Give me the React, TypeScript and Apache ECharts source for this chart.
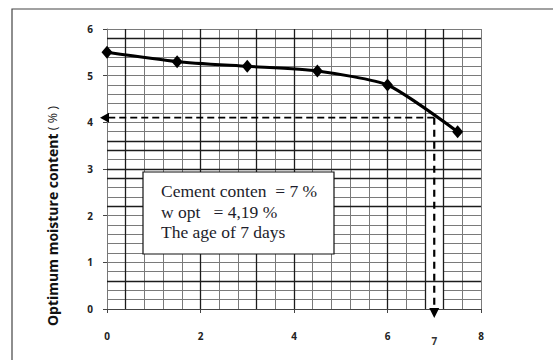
import React, { useEffect, useRef } from "react";
import * as echarts from "echarts";

// ---- data ----
const curingAge = [0, 1.5, 3, 4.5, 6, 7.5];
const moisture = [5.5, 5.3, 5.2, 5.1, 4.8, 3.8];
const xRange = [0, 8];
const yRange = [0, 6];
// graph-paper heavy lines
const darkGridX = [0.4, 2, 3.2, 4, 6, 6.8, 7.2];
const darkGridY = [5.8, 3.6, 3.4, 3.0, 2.8, 2.2, 0.6];
// read-off point
const readX = 7;
const readY = 4.1;
const readLabel = "7";
const noteLines = ["Cement conten  = 7 %", "w opt   = 4,19 %", "The age of 7 days"];
const yTitleMain = "Optimum moisture content";
const yTitleUnit = "( % )";

const GRID_MINOR = "#7a7a7a";
const GRID_DARK = "#1c1c1c";
const LABEL_FONT = "'Open Sans', 'DejaVu Sans', sans-serif";

export default function App() {
  const ref = useRef<HTMLDivElement>(null);
  useEffect(() => {
    if (!ref.current) return;
    const chart = echarts.init(ref.current, undefined, { renderer: "svg" });
    const axisLabel = {
      fontFamily: LABEL_FONT,
      fontWeight: "bold" as const,
      fontSize: 10,
      color: "#222",
    };
    chart.setOption({
      animation: false,
      backgroundColor: "#fff",
      grid: { left: 107, top: 29, width: 374, height: 280, containLabel: false },
      xAxis: [
        {
          type: "value",
          min: xRange[0],
          max: xRange[1],
          interval: 2,
          axisLine: { show: true, lineStyle: { color: "#444", width: 1.2 } },
          axisTick: { show: true, length: 4, lineStyle: { color: "#444" } },
          axisLabel: { ...axisLabel, margin: 22 },
          splitLine: { show: false },
          z: 3,
        },
        {
          type: "value",
          min: xRange[0],
          max: xRange[1],
          interval: 0.4,
          position: "bottom",
          axisLine: { show: false },
          axisTick: { show: false },
          axisLabel: { show: false },
          splitLine: { show: true, lineStyle: { color: GRID_MINOR, width: 1 } },
        },
      ],
      yAxis: [
        {
          type: "value",
          min: yRange[0],
          max: yRange[1],
          interval: 1,
          axisLine: { show: true, lineStyle: { color: "#777", width: 1 } },
          axisTick: { show: true, length: 4, lineStyle: { color: "#444" } },
          axisLabel: { ...axisLabel, margin: 14 },
          splitLine: { show: false },
          z: 3,
        },
        {
          type: "value",
          min: yRange[0],
          max: yRange[1],
          interval: 0.2,
          position: "left",
          axisLine: { show: false },
          axisTick: { show: false },
          axisLabel: { show: false },
          splitLine: { show: true, lineStyle: { color: GRID_MINOR, width: 1 } },
        },
      ],
      series: [
        {
          type: "scatter",
          data: [],
          z: 1,
          silent: true,
          markArea: {
            silent: true,
            itemStyle: { color: "#fff" },
            label: { show: false },
            data: [[{ coord: [darkGridX[5], yRange[0]] }, { coord: [darkGridX[6], readY] }]],
          },
        },
        {
          type: "scatter",
          data: [],
          z: 2,
          silent: true,
          markLine: {
            silent: true,
            symbol: ["none", "none"],
            label: { show: false },
            lineStyle: { type: "solid", color: GRID_DARK, width: 1.3 },
            emphasis: { disabled: true },
            data: [
              ...darkGridX.map((x) => ({ xAxis: x })),
              ...darkGridY.map((y) => ({ yAxis: y })),
            ],
          },
        },
        {
          type: "line",
          z: 5,
          data: curingAge.map((x, i) => [x, moisture[i]]),
          smooth: 0.2,
          symbol: "diamond",
          symbolSize: [11, 13],
          lineStyle: { color: "#000", width: 3 },
          itemStyle: { color: "#000" },
        },
      ],
    });

    const p = (x: number, y: number) =>
      chart.convertToPixel({ gridIndex: 0 }, [x, y]) as number[];
    const r = p(readX, readY);
    const o = p(xRange[0], yRange[0]);
    const dashH = { stroke: "#000", lineWidth: 1.8, lineDash: [7, 4] };
    const dashV = { stroke: "#000", lineWidth: 2.2, lineDash: [7, 5] };

    chart.setOption({
      graphic: [
        {
          type: "rect",
          shape: { x: 12, y: 9, width: 700, height: 500 },
          style: { fill: "none", stroke: "#444", lineWidth: 1.2 },
          z: 10,
        },
        {
          type: "text",
          x: 52,
          y: 216,
          rotation: Math.PI / 2,
          style: {
            text: `{b|${yTitleMain}} {n|${yTitleUnit}}`,
            align: "center",
            verticalAlign: "middle",
            rich: {
              b: { fontFamily: LABEL_FONT, fontWeight: "bold", fontSize: 14, fill: "#111" },
              n: { fontFamily: LABEL_FONT, fontWeight: "normal", fontSize: 12.5, fill: "#222" },
            },
          },
          z: 10,
        },
        {
          type: "rect",
          shape: { x: 143, y: 172, width: 191, height: 82 },
          style: { fill: "#fff", stroke: "#111", lineWidth: 1.2 },
          z: 20,
        },
        ...noteLines.map((t, i) => ({
          type: "text",
          x: 161,
          y: 191 + i * 20.5,
          style: {
            text: t,
            fontFamily: "'Liberation Serif', 'DejaVu Serif', serif",
            fontSize: 17.5,
            fill: "#1d1d2b",
            verticalAlign: "middle",
            align: "left",
          },
          z: 21,
        })),
        // horizontal dashed read-off with arrow
        {
          type: "line",
          shape: { x1: r[0], y1: r[1], x2: o[0] + 1, y2: r[1] },
          style: dashH,
          z: 30,
        },
        {
          type: "polygon",
          shape: {
            points: [
              [o[0] - 7, r[1]],
              [o[0] + 2, r[1] - 5],
              [o[0] + 2, r[1] + 5],
            ],
          },
          style: { fill: "#000" },
          z: 30,
        },
        // vertical dashed read-off with arrow
        {
          type: "line",
          shape: { x1: r[0], y1: r[1], x2: r[0], y2: o[1] - 1 },
          style: dashV,
          z: 30,
        },
        {
          type: "polygon",
          shape: {
            points: [
              [r[0], o[1] + 9],
              [r[0] - 5, o[1] - 1],
              [r[0] + 5, o[1] - 1],
            ],
          },
          style: { fill: "#000" },
          z: 30,
        },
        {
          type: "text",
          x: r[0],
          y: o[1] + 32,
          style: {
            text: readLabel,
            fontFamily: LABEL_FONT,
            fontWeight: "bold",
            fontSize: 10,
            fill: "#333",
            align: "center",
            verticalAlign: "middle",
          },
          z: 30,
        },
      ],
    });
    return () => chart.dispose();
  }, []);
  return (
    <div
      ref={ref}
      style={{ position: "fixed", left: 0, top: 0, width: 553, height: 360 }}
    />
  );
}
